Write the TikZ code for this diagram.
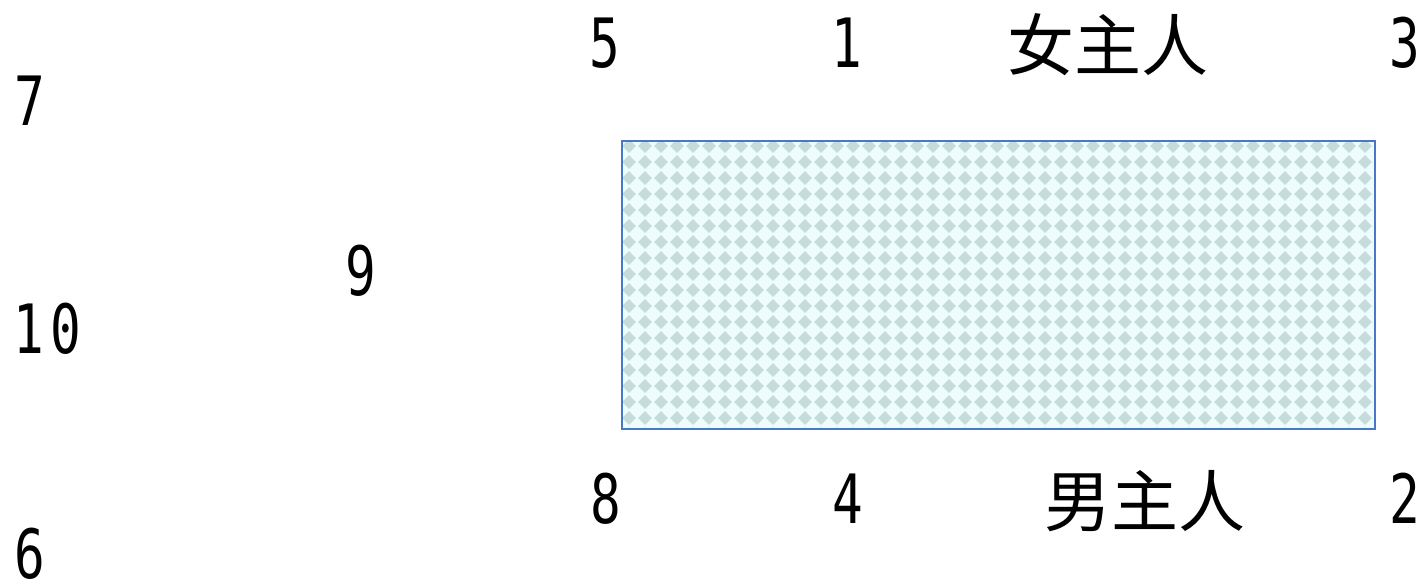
\documentclass[tikz,border=0pt]{standalone}
\usepackage{fontspec}
\newfontfamily\monofnt{DejaVu Sans Mono}
\newfontfamily\cjk{Noto Sans CJK SC}
\definecolor{bgcyan}{HTML}{EEFCFC}
\definecolor{diam}{HTML}{C6DCDC}
\definecolor{edge}{HTML}{4A78C8}
\tikzset{
  num/.style={anchor=base,inner sep=0pt,font=\monofnt\fontsize{68}{68}\selectfont},
  cjklabel/.style={anchor=base,inner sep=0pt,font=\cjk\fontsize{67}{67}\selectfont},
  box/.style={draw=edge,line width=1.6pt}
}
\newcommand{\nx}[1]{\scalebox{0.75}[1]{#1}}
\begin{document}
\begin{tikzpicture}[x=1pt,y=-1pt]
\useasboundingbox (0,0) rectangle (1424,584);
\fill[white] (0,0) rectangle (1424,584);
% pattern box
\coordinate (bl) at (621,140);
\coordinate (tr) at (1374,428);
\fill[bgcyan] (bl) rectangle (tr);
\begin{scope}
\clip (bl) rectangle (tr);
\foreach \i in {0,...,47}{
  \foreach \j in {0,...,18}{
    \fill[diam] ({629+16*\i},{146+16*\j-6.8}) -- ++(6.8,6.8) -- ++(-6.8,6.8) -- ++(-6.8,-6.8) -- cycle;
  }
}
\end{scope}
\node[box,minimum width=753pt,minimum height=288pt,anchor=north west] (rect) at (bl) {};
% labels
\node[num] (n7) at (30,125) {\nx{7}};
\node[num] (n10) at (47,353) {\nx{1}\kern6pt\nx{0}};
\node[num] (n9) at (361,295) {\nx{9}};
\node[num] (n6) at (30,578) {\nx{6}};
\node[num] (n5) at (605,67) {\nx{5}};
\node[num] (n1) at (847,67) {\nx{1}};
\node[cjklabel] (nv) at (1108,70) {女主人};
\node[num] (n3) at (1405,67) {\nx{3}};
\node[num] (n8) at (606,523) {\nx{8}};
\node[num] (n4) at (848,523) {\nx{4}};
\node[cjklabel] (nm) at (1145,526) {男主人};
\node[num] (n2) at (1405,523) {\nx{2}};
\end{tikzpicture}
\end{document}
